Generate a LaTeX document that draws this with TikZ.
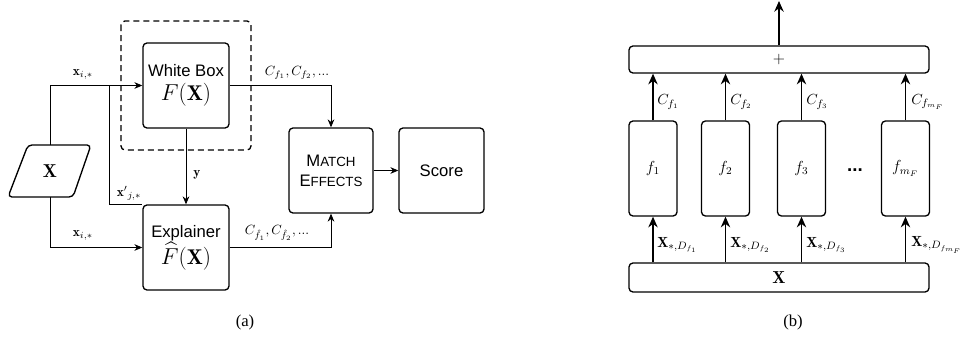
\documentclass[tikz,border=0pt]{standalone}
\usepackage{amsmath}
\usepackage{amssymb}
\usepackage{fontspec}
\usetikzlibrary{arrows.meta}
\newfontfamily\boxfont{Liberation Sans}
\newfontfamily\capfont{Liberation Serif}

\begin{document}
\begin{tikzpicture}[x=0.75pt,y=-0.75pt,
  caja/.style={draw, line width=1pt, rounded corners=3pt, inner sep=0pt, align=center},
  flecha/.style={line width=0.6pt, -{Stealth[length=6pt,width=5pt]}},
  linea/.style={line width=0.6pt},
  gruesa/.style={line width=1.3pt, -{Stealth[length=8pt,width=7pt]}},
  etiq/.style={font=\fontsize{10}{12}\selectfont, inner sep=0pt},
  texto/.style={font=\boxfont\fontsize{12.5}{15}\selectfont}]

\useasboundingbox (0,0) rectangle (961,339);

% (a) nodos
\node[caja, minimum width=64.5pt, minimum height=63.75pt, font=\fontsize{16}{18}\selectfont] (wbox) at (186,85.5)
  {{\boxfont\fontsize{12.5}{15}\selectfont White Box}\\ $F(\mathbf{X})$};
\node[caja, minimum width=64.5pt, minimum height=63.75pt, font=\fontsize{16}{18}\selectfont] (expl) at (186,247.5)
  {{\boxfont\fontsize{12.5}{15}\selectfont Explainer}\\ $\widehat{F}(\mathbf{X})$};
\node[caja, minimum width=63pt, minimum height=63.75pt, texto] (match) at (331,170.5)
  {M{\fontsize{10}{12}\selectfont ATCH}\\E{\fontsize{10}{12}\selectfont FFECTS}};
\node[caja, minimum width=63.75pt, minimum height=63.75pt, texto] (score) at (441.5,170.5) {Score};
\node[inner sep=0pt, minimum height=39pt, minimum width=30pt, font=\fontsize{14}{16}\selectfont] (xin) at (50,171) {$\mathbf{X}$};
\coordinate (br) at (109,85.5);

% paralelogramo y caja punteada
\draw[line width=1pt, rounded corners=3pt] (28,145) -- (91,145) -- (73,197) -- (8,197) -- cycle;
\draw[line width=1pt, dashed, dash pattern=on 4.5pt off 3pt, rounded corners=3pt] (121,21) rectangle (251,150);

% (a) conexiones
\draw[flecha] (xin.north) |- (wbox.west);
\draw[linea] (br) |- (expl.north west);
\draw[flecha] (xin.south) |- (expl.west);
\draw[flecha] (wbox.south) -- (expl.north);
\draw[flecha] (wbox.east) -| (match.north);
\draw[flecha] (expl.east) -| (match.south);
\draw[flecha] (match.east) -- (score.west);

% (a) etiquetas
\node[etiq] (lx1) at (83,74) {$\mathbf{x}_{i,*}$};
\node[etiq] (lx2) at (83,235) {$\mathbf{x}_{i,*}$};
\node[etiq] (lx3) at (129,193) {$\mathbf{x'}_{j,*}$};
\node[etiq] (ly) at (197,175) {$\mathbf{y}$};
\node[etiq] (lc1) at (297,73) {$C_{f_1}, C_{f_2}, ...$};
\node[etiq] (lc2) at (277,233) {$C_{\hat{f}_1}, C_{\hat{f}_2}, ...$};
\node[font=\capfont\fontsize{12.5}{15}\selectfont] (pa) at (245,322) {(a)};

% (b) nodos
\node[caja, minimum width=225pt, minimum height=20.25pt, font=\fontsize{12}{14}\selectfont] (plus) at (779,59.5) {$+$};
\node[caja, minimum width=225pt, minimum height=21.75pt, font=\fontsize{13}{15}\selectfont] (xbar) at (779,277.5) {$\mathbf{X}$};
\node[caja, minimum width=36pt, minimum height=71.25pt, font=\fontsize{12}{14}\selectfont] (f1) at (653,168.5) {$f_1$};
\node[caja, minimum width=36pt, minimum height=71.25pt, font=\fontsize{12}{14}\selectfont] (f2) at (725.5,168.5) {$f_2$};
\node[caja, minimum width=36pt, minimum height=71.25pt, font=\fontsize{12}{14}\selectfont] (f3) at (801.5,168.5) {$f_3$};
\node[caja, minimum width=36pt, minimum height=71.25pt, font=\fontsize{12}{14}\selectfont] (fm) at (905.5,168.5) {$f_{m_F}$};
\node[font=\boxfont\bfseries\fontsize{14}{16}\selectfont] (dots) at (855,170) {...};
\coordinate (salida) at (779,1);

% (b) flechas
\draw[gruesa] (f1 |- xbar.north) -- (f1.south);
\draw[gruesa] (f2 |- xbar.north) -- (f2.south);
\draw[gruesa] (f3 |- xbar.north) -- (f3.south);
\draw[gruesa] (fm |- xbar.north) -- (fm.south);
\draw[gruesa] (f1.north) -- (f1 |- plus.south);
\draw[gruesa] (f2.north) -- (f2 |- plus.south);
\draw[gruesa] (f3.north) -- (f3 |- plus.south);
\draw[gruesa] (fm.north) -- (fm |- plus.south);
\draw[gruesa] (plus.north) -- (salida);

% (b) etiquetas
\node[etiq, anchor=west, font=\fontsize{11}{13}\selectfont] (cf1) at (657,102) {$C_{f_1}$};
\node[etiq, anchor=west, font=\fontsize{11}{13}\selectfont] (cf2) at (730,102) {$C_{f_2}$};
\node[etiq, anchor=west, font=\fontsize{11}{13}\selectfont] (cf3) at (806,102) {$C_{f_3}$};
\node[etiq, anchor=west, font=\fontsize{11}{13}\selectfont] (cfm) at (911,102) {$C_{f_{m_F}}$};
\node[etiq, anchor=west, font=\fontsize{11}{13}\selectfont] (xd1) at (657,245) {$\mathbf{X}_{*,D_{f_1}}$};
\node[etiq, anchor=west, font=\fontsize{11}{13}\selectfont] (xd2) at (730,245) {$\mathbf{X}_{*,D_{f_2}}$};
\node[etiq, anchor=west, font=\fontsize{11}{13}\selectfont] (xd3) at (806,245) {$\mathbf{X}_{*,D_{f_3}}$};
\node[etiq, anchor=west, font=\fontsize{11}{13}\selectfont] (xdm) at (911,245) {$\mathbf{X}_{*,D_{f_{m_F}}}$};
\node[font=\capfont\fontsize{12.5}{15}\selectfont] (pb) at (793,322) {(b)};
\end{tikzpicture}
\end{document}
